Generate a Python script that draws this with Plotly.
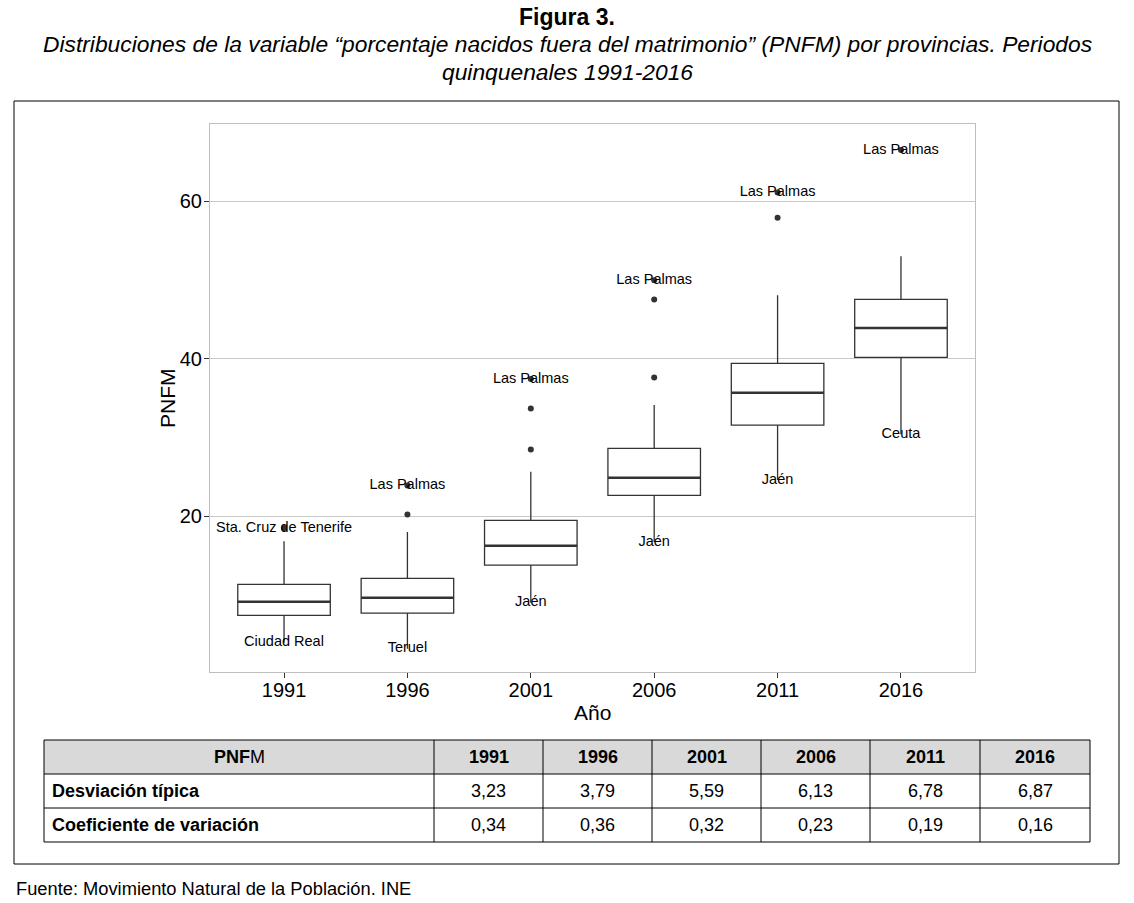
import plotly.graph_objects as go

# ---------------- data ----------------
years = ["1991", "1996", "2001", "2006", "2011", "2016"]
q1 = [7.39, 7.68, 13.78, 22.63, 31.56, 40.15]
medians = [9.12, 9.63, 16.23, 24.87, 35.66, 43.90]
q3 = [11.33, 12.09, 19.45, 28.60, 39.39, 47.52]
whisker_low = [3.9, 3.15, 9.0, 16.7, 24.6, 30.4]
whisker_high = [16.8, 17.97, 25.63, 34.1, 48.06, 53.0]

# outliers without label (year index, value)
outlier_year = [1, 2, 2, 3, 3, 4]
outlier_val = [20.2, 28.47, 33.68, 37.6, 47.5, 57.9]

# labelled maxima (outliers, drawn with a dot)
max_year = [0, 1, 2, 3, 4, 5]
max_val = [18.5, 23.9, 37.4, 49.97, 61.1, 66.5]
max_name = ["Sta. Cruz de Tenerife", "Las Palmas", "Las Palmas", "Las Palmas", "Las Palmas", "Las Palmas"]

# labelled minima (no dot)
min_name = ["Ciudad Real", "Teruel", "Jaén", "Jaén", "Jaén", "Ceuta"]

# table
table_title = "<b>PNF</b>M"
sd = [3.23, 3.79, 5.59, 6.13, 6.78, 6.87]
cv = [0.34, 0.36, 0.32, 0.23, 0.19, 0.16]
row_labels = ["Desviación típica", "Coeficiente de variación"]

# ---------------- figure ----------------
W, H = 1134, 903
FONT = "Liberation Sans, Arial, sans-serif"
DARK = "#333333"


def px(x):
    return x / W


def py(y):
    return 1 - y / H


pos = list(range(len(years)))
BW = 0.75

fig = go.Figure()

fig.add_trace(go.Box(
    x=pos, q1=q1, median=medians, q3=q3,
    lowerfence=whisker_low, upperfence=whisker_high,
    width=BW, whiskerwidth=0, fillcolor="white",
    line=dict(color=DARK, width=1.3),
    boxpoints=False, showlegend=False, hoverinfo="skip",
))

# thicker median segments
mx, my = [], []
for p, m in zip(pos, medians):
    mx += [p - BW / 2, p + BW / 2, None]
    my += [m, m, None]
fig.add_trace(go.Scatter(x=mx, y=my, mode="lines",
                         line=dict(color=DARK, width=2.6),
                         showlegend=False, hoverinfo="skip"))

# outlier dots
fig.add_trace(go.Scatter(x=outlier_year + max_year, y=outlier_val + max_val,
                         mode="markers",
                         marker=dict(color=DARK, size=6),
                         showlegend=False, hoverinfo="skip"))

# labels
fig.add_trace(go.Scatter(x=max_year + pos, y=max_val + whisker_low,
                         mode="text", text=max_name + min_name,
                         textposition="middle center",
                         textfont=dict(family=FONT, size=14.5, color="black"),
                         showlegend=False, hoverinfo="skip"))

# ---------------- table (drawn with shapes + annotations) ----------------
def fmt(v):
    return f"{v:.2f}".replace(".", ",")

col_edges = [44, 434, 543, 652, 761, 870, 980, 1090]
row_edges = [740, 774, 808, 842]
TFONT = dict(family=FONT, size=18, color="black")

header_cells = [table_title] + [f"<b>{y}</b>" for y in years]
body_rows = [[f"<b>{row_labels[0]}</b>"] + [fmt(v) for v in sd],
             [f"<b>{row_labels[1]}</b>"] + [fmt(v) for v in cv]]

shapes = [dict(type="rect", xref="paper", yref="paper",
               x0=px(col_edges[0]), x1=px(col_edges[-1]),
               y0=py(row_edges[1]), y1=py(row_edges[0]),
               fillcolor="#d9d9d9", line=dict(width=0), layer="below")]
for yv in row_edges:
    shapes.append(dict(type="line", xref="paper", yref="paper",
                       x0=px(col_edges[0]), x1=px(col_edges[-1]), y0=py(yv), y1=py(yv),
                       line=dict(color="black", width=1)))
for xv in col_edges:
    shapes.append(dict(type="line", xref="paper", yref="paper",
                       x0=px(xv), x1=px(xv), y0=py(row_edges[-1]), y1=py(row_edges[0]),
                       line=dict(color="black", width=1)))
# outer frame
shapes.append(dict(type="rect", xref="paper", yref="paper",
                   x0=px(14), x1=px(1119), y0=py(864), y1=py(101),
                   line=dict(color="black", width=1)))

table_ann = []
all_rows = [header_cells] + body_rows
for r, row in enumerate(all_rows):
    yc = (row_edges[r] + row_edges[r + 1]) / 2
    for c, txt in enumerate(row):
        if c == 0 and r > 0:
            table_ann.append(dict(text=txt, x=px(col_edges[0] + 6), y=py(yc),
                                  xref="paper", yref="paper", showarrow=False,
                                  xanchor="left", yanchor="middle", font=TFONT))
        else:
            xc = (col_edges[c] + col_edges[c + 1]) / 2
            table_ann.append(dict(text=txt, x=px(xc), y=py(yc),
                                  xref="paper", yref="paper", showarrow=False,
                                  xanchor="center", yanchor="middle", font=TFONT))

fig.update_layout(
    width=W, height=H,
    margin=dict(l=0, r=0, t=0, b=0),
    paper_bgcolor="white", plot_bgcolor="white",
    font=dict(family=FONT, color="black"),
    xaxis=dict(domain=[px(210), px(975)], range=[-0.6, 5.6],
               tickvals=pos, ticktext=years,
               showgrid=False, zeroline=False,
               showline=True, mirror=True, linecolor="#bebebe", linewidth=1,
               ticks="outside", ticklen=5, tickcolor=DARK, tickwidth=1,
               ticklabelstandoff=-5,
               tickfont=dict(family=FONT, size=20, color="black")),
    yaxis=dict(domain=[py(672), py(124)], range=[0.2, 69.8],
               tickvals=[20, 40, 60],
               showgrid=True, gridcolor="#c8c8c8", gridwidth=1,
               zeroline=False,
               showline=True, mirror=True, linecolor="#bebebe", linewidth=1,
               ticks="outside", ticklen=5, tickcolor=DARK, tickwidth=1,
               ticklabelstandoff=-2,
               tickfont=dict(family=FONT, size=20, color="black")),
    shapes=shapes,
    annotations=[
        dict(text="<b>Figura 3.</b>", x=0.5, y=py(17), xref="paper", yref="paper",
             showarrow=False, xanchor="center", yanchor="middle",
             font=dict(family=FONT, size=23, color="black")),
        dict(text="<i>Distribuciones de la variable “porcentaje nacidos fuera del matrimonio” (PNFM) por provincias. Periodos</i>",
             x=0.5, y=py(44), xref="paper", yref="paper",
             showarrow=False, xanchor="center", yanchor="middle",
             font=dict(family=FONT, size=22.8, color="black")),
        dict(text="<i>quinquenales 1991-2016</i>",
             x=0.5, y=py(72), xref="paper", yref="paper",
             showarrow=False, xanchor="center", yanchor="middle",
             font=dict(family=FONT, size=22.8, color="black")),
        dict(text="PNFM", x=px(168), y=py(398), xref="paper", yref="paper",
             showarrow=False, textangle=-90, xanchor="center", yanchor="middle",
             font=dict(family=FONT, size=21, color="black")),
        dict(text="Año", x=px(592), y=py(712), xref="paper", yref="paper",
             showarrow=False, xanchor="center", yanchor="middle",
             font=dict(family=FONT, size=21, color="black")),
        dict(text="Fuente: Movimiento Natural de la Población. INE",
             x=px(14), y=py(888), xref="paper", yref="paper",
             showarrow=False, xanchor="left", yanchor="middle",
             font=dict(family=FONT, size=18.3, color="black")),
    ] + table_ann,
)

fig.write_html("out.html", config={"displayModeBar": False},
               post_script="document.body.style.margin='0';document.body.style.overflow='hidden';")
